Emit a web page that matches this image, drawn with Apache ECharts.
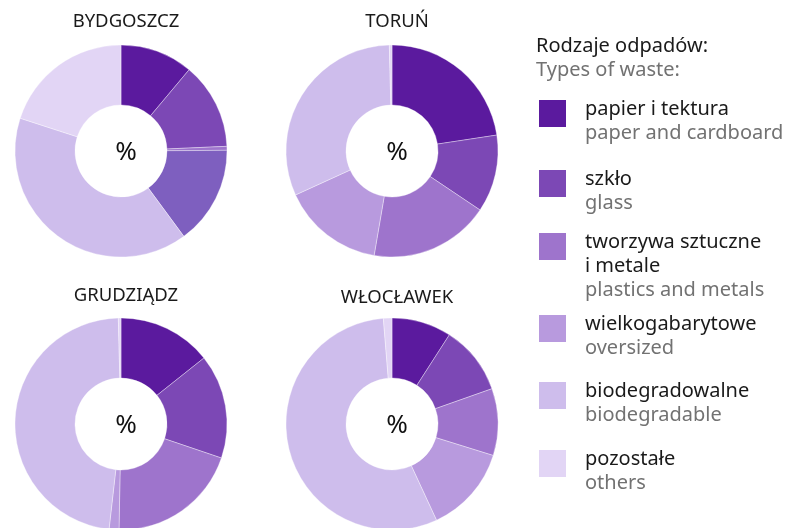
<!DOCTYPE html>
<html lang="pl" style="height: 100%">
<head>
    <meta charset="utf-8">
    <title>Rodzaje odpadów</title>
    <script src="https://cdn.jsdelivr.net/npm/echarts@6/dist/echarts.min.js"></script>
</head>
<body style="height: 100%; margin: 0; background: #fff">
    <div id="main" style="width: 797px; height: 528px"></div>
    <script type="text/javascript">
        // dane
        var cities = ['BYDGOSZCZ', 'TORUŃ', 'GRUDZIĄDZ', 'WŁOCŁAWEK'];
        var typesPl = ['papier i tektura', 'szkło', 'tworzywa sztuczne\ni metale', 'wielkogabarytowe', 'biodegradowalne', 'pozostałe'];
        var typesEn = ['paper and cardboard', 'glass', 'plastics and metals', 'oversized', 'biodegradable', 'others'];
        var bydgoszcz = [11.1, 13.2, 0.6, 15.0, 40.1, 20.0];
        var torun     = [22.6, 11.8, 18.3, 15.5, 31.4, 0.4];
        var grudziadz = [14.3, 15.9, 20.1, 1.5, 47.8, 0.4];
        var wloclawek = [9.1, 10.5, 10.2, 13.3, 55.6, 1.3];
        var values = [bydgoszcz, torun, grudziadz, wloclawek];

        var colors = ['#5b1a9e', '#7c48b5', '#9e74cc', '#b89ade', '#cebdec', '#e2d5f5'];
        var centers = [[121, 151], [392, 151], [121, 424], [392, 424]];
        var titleY = [7, 7, 281, 283];

        var myChart = echarts.init(document.getElementById('main'));
        var font = 'Noto Sans';

        var titles = [];
        var series = [];
        cities.forEach(function (c, i) {
            titles.push({
                text: c, left: centers[i][0], top: titleY[i], textAlign: 'center',
                textStyle: { fontFamily: font, fontSize: 18.5, fontWeight: 'normal', color: '#1a1a1a' }
            });
            titles.push({
                text: '%', left: centers[i][0], top: centers[i][1] - 16, textAlign: 'center',
                textStyle: { fontFamily: font, fontSize: 26, fontWeight: 'normal', color: '#111' }
            });
            series.push({
                type: 'pie',
                center: centers[i],
                radius: [46, 106],
                startAngle: 90,
                silent: true,
                label: { show: false },
                labelLine: { show: false },
                itemStyle: { borderColor: 'rgba(255,255,255,0.6)', borderWidth: 0.6 },
                data: values[i].map(function (v, k) {
                    var col = colors[k];
                    // w Bydgoszczy wielkogabarytowe w innym odcieniu
                    if (i === 0 && k === 3) col = '#7e5fbf';
                    return { name: typesPl[k], value: v, itemStyle: { color: col } };
                })
            });
        });

        // legenda
        var boxTop = [100, 170, 233, 315, 382, 450];
        var fs = 20;
        var graphic = [
            { type: 'text', left: 536, top: 36, style: { text: 'Rodzaje odpadów:', fontFamily: font, fontSize: fs, fill: '#1a1a1a' } },
            { type: 'text', left: 536, top: 60, style: { text: 'Types of waste:', fontFamily: font, fontSize: fs, fill: '#727272' } }
        ];
        typesPl.forEach(function (t, k) {
            var nl = t.split('\n').length;
            graphic.push({ type: 'rect', shape: { x: 539, y: boxTop[k], width: 27, height: 27 }, style: { fill: colors[k] } });
            graphic.push({ type: 'text', left: 585, top: boxTop[k] - 3, style: { text: t, fontFamily: font, fontSize: fs, lineHeight: 24, fill: '#1a1a1a' } });
            graphic.push({ type: 'text', left: 585, top: boxTop[k] - 3 + 24 * nl, style: { text: typesEn[k], fontFamily: font, fontSize: fs, lineHeight: 24, fill: '#727272' } });
        });

        var option = {
            animation: false,
            title: titles,
            graphic: graphic,
            series: series
        };
        myChart.setOption(option);
    </script>
</body>
</html>
